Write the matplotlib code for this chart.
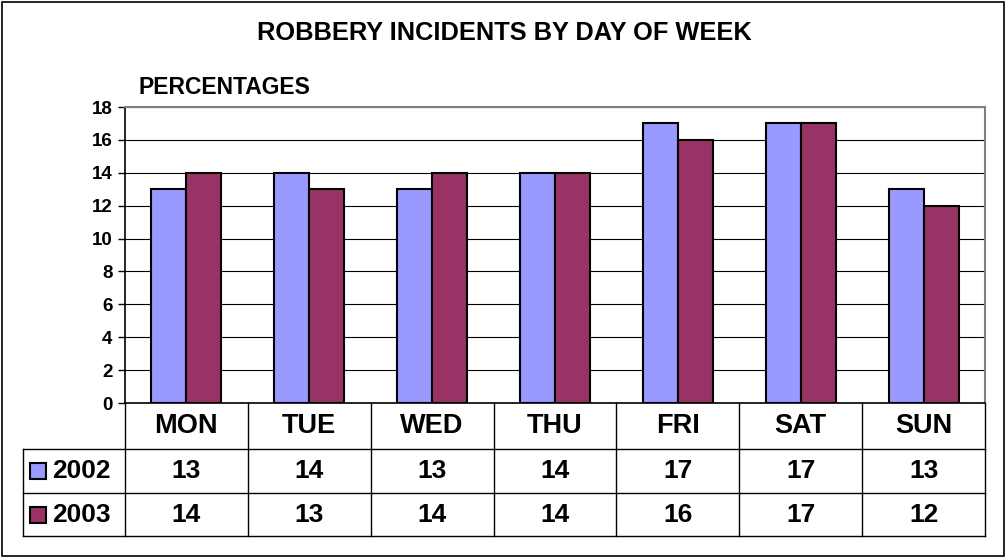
import matplotlib.pyplot as plt
from matplotlib.transforms import blended_transform_factory
from matplotlib.patches import Rectangle
import numpy as np

days = ["MON", "TUE", "WED", "THU", "FRI", "SAT", "SUN"]
pct_2002 = [13, 14, 13, 14, 17, 17, 13]
pct_2003 = [14, 13, 14, 14, 16, 17, 12]
years = ["2002", "2003"]
colors = ["#9999FF", "#993366"]

plt.rcParams['font.family'] = ['Liberation Sans', 'DejaVu Sans']
plt.rcParams['font.weight'] = 'bold'

W, H = 1007, 558
fig = plt.figure(figsize=(W / 100, H / 100), dpi=100)

# outer border
fig.patches.append(Rectangle((2 / W, 2 / H), 1002 / W, 554 / H, transform=fig.transFigure,
                             fill=False, edgecolor="black", linewidth=1.2))

left, right, top, bottom = 125, 985, 107, 403
ax = fig.add_axes([left / W, 1 - bottom / H, (right - left) / W, (bottom - top) / H])

x = np.arange(len(days))
bw = 0.285
ax.bar(x - bw / 2, pct_2002, bw, color=colors[0], edgecolor="black", linewidth=1.5, zorder=3)
ax.bar(x + bw / 2, pct_2003, bw, color=colors[1], edgecolor="black", linewidth=1.5, zorder=3)

ax.set_xlim(-0.5, len(days) - 0.5)
ax.set_ylim(0, 18)
ax.set_yticks(range(0, 19, 2))
ax.tick_params(axis="y", labelsize=13.5, length=5, width=1, pad=4)
ax.set_xticks([])
ax.yaxis.grid(True, color="black", linewidth=0.8)
ax.set_axisbelow(True)
for s in ["top", "right"]:
    ax.spines[s].set_color("#808080")
    ax.spines[s].set_linewidth(1.5)
ax.spines["left"].set_linewidth(1.2)
ax.spines["bottom"].set_linewidth(1.2)

fig.text(504 / W, 1 - 33 / H, "ROBBERY INCIDENTS BY DAY OF WEEK",
         ha="center", va="center", fontsize=18.3, fontweight="bold")
fig.text(138 / W, 1 - 88 / H, "PERCENTAGES", ha="left", va="center", fontsize=16.5, fontweight="bold")

# data table below the axis
ph = bottom - top
y1 = -(449 - bottom) / ph
y2 = -(493 - bottom) / ph
y3 = -(536 - bottom) / ph
trans = blended_transform_factory(ax.transData, ax.transAxes)
ftrans = blended_transform_factory(fig.transFigure, ax.transAxes)
lkw = dict(color="black", linewidth=1, clip_on=False)

for i in range(len(days) + 1):
    ax.plot([i - 0.5, i - 0.5], [0, y3], transform=trans, **lkw)
for yy in [y1, y2, y3]:
    ax.plot([23 / W, right / W], [yy, yy], transform=ftrans, **lkw)
ax.plot([23 / W, 23 / W], [y1, y3], transform=ftrans, **lkw)

for i, d in enumerate(days):
    ax.text(i, y1 / 2, d, transform=trans, ha="center", va="center", fontsize=19.5, fontweight="bold")
    ax.text(i, (y1 + y2) / 2, str(pct_2002[i]), transform=trans, ha="center", va="center",
            fontsize=19, fontweight="bold")
    ax.text(i, (y2 + y3) / 2, str(pct_2003[i]), transform=trans, ha="center", va="center",
            fontsize=19, fontweight="bold")

for yr, (ya, yb) in zip(years, [(y1, y2), (y2, y3)]):
    ax.text(52 / W, (ya + yb) / 2, yr, transform=ftrans, ha="left", va="center",
            fontsize=19, fontweight="bold")

# legend keys
for c, yc in zip(colors, [471, 515]):
    fig.patches.append(Rectangle((30 / W, 1 - (yc + 8) / H), 16 / W, 16 / H, transform=fig.transFigure,
                                 facecolor=c, edgecolor="black", linewidth=1.5))

fig.savefig("out.png", dpi=100)
